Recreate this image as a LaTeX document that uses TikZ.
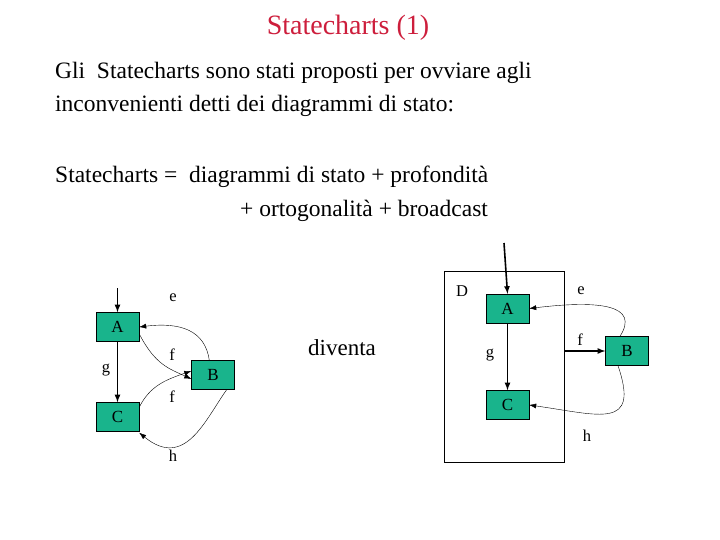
\documentclass[tikz,border=0pt]{standalone}
\usepackage{fontspec}
\usetikzlibrary{arrows.meta}
\setmainfont{Liberation Serif}
\definecolor{stfill}{RGB}{25,180,140}
\definecolor{ttl}{RGB}{205,30,60}
\begin{document}
\begin{tikzpicture}[x=1pt,y=-1pt,
  st/.style={draw,fill=stfill,minimum width=43pt,minimum height=29pt,inner sep=0pt,font=\fontsize{17}{17}\selectfont},
  lb/.style={font=\fontsize{16.5}{16.5}\selectfont},
  txt/.style={anchor=west,inner sep=0pt,font=\fontsize{23.5}{23.5}\selectfont},
  ar/.style={-latex,line width=1.6pt},
  cv/.style={-{Latex[length=7pt,width=5pt]}}]
\useasboundingbox (0,0) rectangle (720,540);
\node[font=\fontsize{28}{28}\selectfont,text=ttl] (title) at (348,28) {Statecharts (1)};
\node[txt] (l1) at (55,73) {Gli\ \ Statecharts sono stati proposti per ovviare agli};
\node[txt] (l2) at (55,106) {inconvenienti detti dei diagrammi di stato:};
\node[txt] (l3) at (55,177) {Statecharts =\ \ diagrammi di stato + profondità};
\node[txt] (l4) at (240,211) {+ ortogonalità + broadcast};
% left
\node[st] (A) at (117.5,327) {A};
\node[st] (C) at (117.5,417) {C};
\node[st] (B) at (213,375) {B};
\coordinate (in1) at (117.5,288);
\draw[ar] (in1) -- (A.north);
\draw[ar] (A.south) -- (C.north);
\draw[cv] (B.north west) ++(18,0) .. controls (205,330) and (180,322) .. (A.east);
\draw[cv] ([yshift=8pt]A.south east) .. controls (155,365) and (170,369) .. ([yshift=-4pt]B.west);
\draw[cv] ([yshift=-5pt]C.north east) .. controls (150,386) and (165,380) .. ([yshift=4pt]B.west);
\draw[cv] ([xshift=-8pt]B.south east) .. controls (205,420) and (185,470) .. ([yshift=-1pt]C.south east);
\node[lb] (le) at (173,298) {e};
\node[lb] (lf1) at (172,355) {f};
\node[lb] (lf2) at (172,397) {f};
\node[lb] (lg) at (106,370) {g};
\node[lb] (lh) at (173,456) {h};
\node[font=\fontsize{23}{23}\selectfont] (div) at (342,348) {diventa};
% right
\node[draw,minimum width=120pt,minimum height=191pt,inner sep=0pt] (D) at (504,366.5) {};
\node[lb] (lD) at (462,291) {D};
\node[st] (A2) at (507.5,308.5) {A};
\node[st] (C2) at (507.5,405) {C};
\node[st] (B2) at (627,351) {B};
\coordinate (in2) at (504,243);
\draw[ar] (in2) -- (A2.north);
\draw[ar] (A2.south) -- (C2.north);
\draw[ar] (D.east |- B2.west) -- (B2.west);
\draw[cv] ([xshift=-7pt]B2.north) .. controls (640,305) and (600,300) .. (A2.east);
\draw[cv] ([xshift=-9pt]B2.south) .. controls (640,430) and (600,415) .. (C2.east);
\node[lb] (le2) at (581,291) {e};
\node[lb] (lf3) at (580,340) {f};
\node[lb] (lg2) at (490,355) {g};
\node[lb] (lh2) at (587,436) {h};
\end{tikzpicture}
\end{document}
